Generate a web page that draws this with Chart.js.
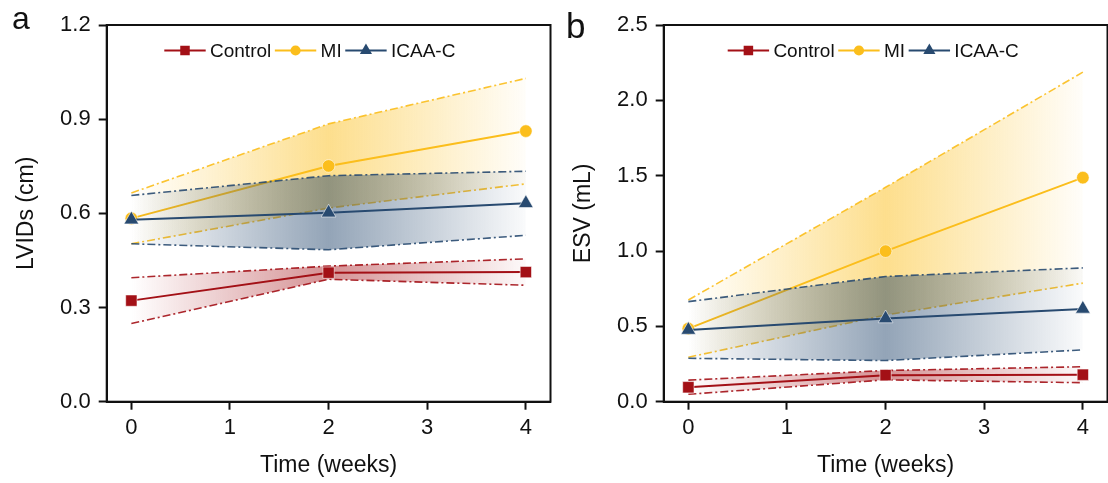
<!DOCTYPE html>
<html>
<head>
<meta charset="utf-8">
<script src="https://cdn.jsdelivr.net/npm/chart.js@4.4.1/dist/chart.umd.min.js"></script>
<style>
  html, body { margin: 0; padding: 0; background: #fff; overflow: hidden; width: 1108px; height: 483px; }
  .panel { position: absolute; top: 0; width: 560px; height: 483px; }
  #pa { left: 0; }
  #pb { left: 557px; }
</style>
</head>
<body>
<div class="panel" id="pa"><canvas id="chartA" width="560" height="483"></canvas></div>
<div class="panel" id="pb"><canvas id="chartB" width="560" height="483"></canvas></div>
<script>
// Time points (weeks) and axis ticks
const weeks = [0, 2, 4];
const xTicks = [0, 1, 2, 3, 4];
const groupNames = ['Control', 'MI', 'ICAA-C'];

// LVIDs (cm): mean and SD at each time point
const lvidsControl = [0.322, 0.411, 0.413];
const lvidsControlSD = [0.073, 0.021, 0.042];
const lvidsMI = [0.584, 0.751, 0.862];
const lvidsMISD = [0.081, 0.134, 0.168];
const lvidsICAA = [0.580, 0.602, 0.632];
const lvidsICAASD = [0.077, 0.118, 0.102];
const lvidsTicks = [0, 0.3, 0.6, 0.9, 1.2];

// ESV (mL): mean and SD at each time point
const esvControl = [0.096, 0.176, 0.179];
const esvControlSD = [0.047, 0.031, 0.053];
const esvMI = [0.485, 0.999, 1.487];
const esvMISD = [0.190, 0.424, 0.700];
const esvICAA = [0.476, 0.552, 0.616];
const esvICAASD = [0.188, 0.279, 0.272];
const esvTicks = [0, 0.5, 1.0, 1.5, 2.0, 2.5];

const FONT = '"Liberation Sans", Arial, Helvetica, sans-serif';
const INK = '#111111';

// Per-group look: colour, marker, band strength, stacking layer (0 = bottom)
const groupStyles = [
  { rgb: [163, 16, 22],  point: 'rect',     radius: 8,   legendSize: 6.6, bandAlpha: 0.46, layer: 1 },
  { rgb: [251, 190, 28], point: 'circle',   radius: 6.3, legendSize: 5.1, bandAlpha: 0.50, layer: 0 },
  { rgb: [40, 74, 112],  point: 'triangle', radius: 8.5, legendSize: 7.0, bandAlpha: 0.50, layer: 2 }
];

const rgba = (rgb, a) => `rgba(${rgb[0]},${rgb[1]},${rgb[2]},${a})`;

// Horizontal gradient for a SD band: clear at week 0, strongest at week 2, fading out by week 4
function bandFill(rgb, alpha) {
  return (ctx) => {
    const chart = ctx.chart;
    if (!chart.chartArea || !chart.scales.x) return rgba(rgb, 0);
    const xs = chart.scales.x;
    const x0 = xs.getPixelForValue(weeks[0]);
    const x1 = xs.getPixelForValue(weeks[weeks.length - 1]);
    const g = chart.ctx.createLinearGradient(x0, 0, x1, 0);
    g.addColorStop(0, rgba(rgb, 0.0));
    g.addColorStop(0.5, rgba(rgb, alpha));
    g.addColorStop(1, rgba(rgb, alpha * 0.05));
    return g;
  };
}

function buildDatasets(means, sds) {
  const sets = [];
  means.forEach((mean, gi) => {
    const st = groupStyles[gi];
    const sd = sds[gi];
    const base = 100 - st.layer * 3;
    const dashed = {
      type: 'line',
      borderColor: rgba(st.rgb, 0.9),
      borderWidth: 1.6,
      borderDash: [8, 3, 2, 3],
      pointRadius: 0,
      tension: 0
    };
    sets.push(Object.assign({}, dashed, {
      label: groupNames[gi] + ' +SD',
      data: weeks.map((w, i) => ({ x: w, y: mean[i] + sd[i] })),
      fill: '+1',
      backgroundColor: bandFill(st.rgb, st.bandAlpha),
      order: base
    }));
    sets.push(Object.assign({}, dashed, {
      label: groupNames[gi] + ' -SD',
      data: weeks.map((w, i) => ({ x: w, y: mean[i] - sd[i] })),
      fill: false,
      order: base - 1
    }));
    sets.push({
      type: 'line',
      label: groupNames[gi],
      data: weeks.map((w, i) => ({ x: w, y: mean[i] })),
      borderColor: rgba(st.rgb, 1),
      borderWidth: 2,
      fill: false,
      tension: 0,
      pointStyle: st.point,
      pointRadius: st.radius,
      pointBackgroundColor: rgba(st.rgb, 1),
      pointBorderColor: 'rgba(255,255,255,0.55)',
      pointBorderWidth: 1,
      order: base - 2
    });
  });
  return sets;
}

function drawMarker(ctx, type, x, y, r) {
  ctx.beginPath();
  if (type === 'rect') {
    ctx.rect(x - r * 0.72, y - r * 0.72, r * 1.44, r * 1.44);
  } else if (type === 'circle') {
    ctx.arc(x, y, r, 0, Math.PI * 2);
  } else {
    ctx.moveTo(x, y - r);
    ctx.lineTo(x + r * 0.866, y + r * 0.5);
    ctx.lineTo(x - r * 0.866, y + r * 0.5);
    ctx.closePath();
  }
  ctx.fill();
}

// Frame, inline legend and panel letter
const panelDecor = {
  id: 'panelDecor',
  afterDatasetsDraw(chart, args, opts) {
    const { ctx, chartArea: a } = chart;
    ctx.save();
    ctx.lineWidth = 2;
    ctx.strokeStyle = INK;
    ctx.strokeRect(a.left, a.top, a.right - a.left, a.bottom - a.top);

    // legend: line - marker - line, then label
    let x = a.left + opts.legendOffset;
    const y = opts.legendY;
    const lineLen = 41.4;
    ctx.font = `19px ${FONT}`;
    ctx.textBaseline = 'alphabetic';
    ctx.textAlign = 'left';
    groupNames.forEach((name, gi) => {
      const st = groupStyles[gi];
      ctx.strokeStyle = rgba(st.rgb, 1);
      ctx.lineWidth = 2;
      ctx.beginPath();
      ctx.moveTo(x, y);
      ctx.lineTo(x + lineLen, y);
      ctx.stroke();
      ctx.fillStyle = rgba(st.rgb, 1);
      drawMarker(ctx, st.point, x + lineLen / 2, y, st.legendSize);
      const tx = x + lineLen + 4.3;
      ctx.fillStyle = INK;
      ctx.fillText(name, tx, y + 6.6);
      x = tx + ctx.measureText(name).width + 3.6;
    });
    ctx.restore();
  },
  afterDraw(chart, args, opts) {
    const ctx = chart.ctx;
    ctx.save();
    ctx.fillStyle = INK;
    ctx.font = `${opts.letterSize}px ${FONT}`;
    ctx.textBaseline = 'alphabetic';
    ctx.textAlign = 'left';
    ctx.fillText(opts.letter, opts.letterX, opts.letterY);
    ctx.restore();
  }
};

function makeChart(canvasId, cfg) {
  const tickFont = { family: FONT, size: 22 };
  const titleFont = { family: FONT, size: 23 };
  return new Chart(document.getElementById(canvasId), {
    type: 'line',
    data: { datasets: buildDatasets(cfg.means, cfg.sds) },
    options: {
      responsive: false,
      animation: false,
      devicePixelRatio: 1,
      layout: { padding: { left: 0, top: 25, right: 5.7, bottom: 0 } },
      plugins: {
        legend: { display: false },
        tooltip: { enabled: false },
        panelDecor: cfg.decor
      },
      scales: {
        x: {
          type: 'linear',
          min: -0.25,
          max: 4.25,
          afterBuildTicks: (s) => { s.ticks = xTicks.map(v => ({ value: v })); },
          afterFit: (s) => { s.height = 81.3; },
          grid: { drawOnChartArea: false, drawTicks: true, tickLength: 8, tickWidth: 2, tickColor: INK },
          border: { display: true, width: 2, color: INK },
          ticks: { font: tickFont, color: INK, padding: 5, maxRotation: 0, callback: v => String(v) },
          title: { display: true, text: 'Time (weeks)', font: titleFont, color: INK, padding: { top: 0, bottom: 4 } }
        },
        y: {
          type: 'linear',
          min: cfg.yTicks[0],
          max: cfg.yTicks[cfg.yTicks.length - 1],
          afterBuildTicks: (s) => { s.ticks = cfg.yTicks.map(v => ({ value: v })); },
          afterFit: (s) => { s.width = 106.7; },
          grid: { drawOnChartArea: false, drawTicks: true, tickLength: 8, tickWidth: 2, tickColor: INK },
          border: { display: true, width: 2, color: INK },
          ticks: { font: tickFont, color: INK, padding: 8, callback: v => Number(v).toFixed(1) },
          title: { display: true, text: cfg.yTitle, font: titleFont, color: INK, padding: { top: 13, bottom: 0 } }
        }
      }
    },
    plugins: [panelDecor]
  });
}

makeChart('chartA', {
  means: [lvidsControl, lvidsMI, lvidsICAA],
  sds: [lvidsControlSD, lvidsMISD, lvidsICAASD],
  yTicks: lvidsTicks,
  yTitle: 'LVIDs (cm)',
  decor: { letter: 'a', letterX: 12, letterY: 28.5, letterSize: 32, legendOffset: 57.6, legendY: 50.5 }
});

makeChart('chartB', {
  means: [esvControl, esvMI, esvICAA],
  sds: [esvControlSD, esvMISD, esvICAASD],
  yTicks: esvTicks,
  yTitle: 'ESV (mL)',
  decor: { letter: 'b', letterX: 9, letterY: 38, letterSize: 35, legendOffset: 64, legendY: 50.5 }
});
</script>
</body>
</html>
